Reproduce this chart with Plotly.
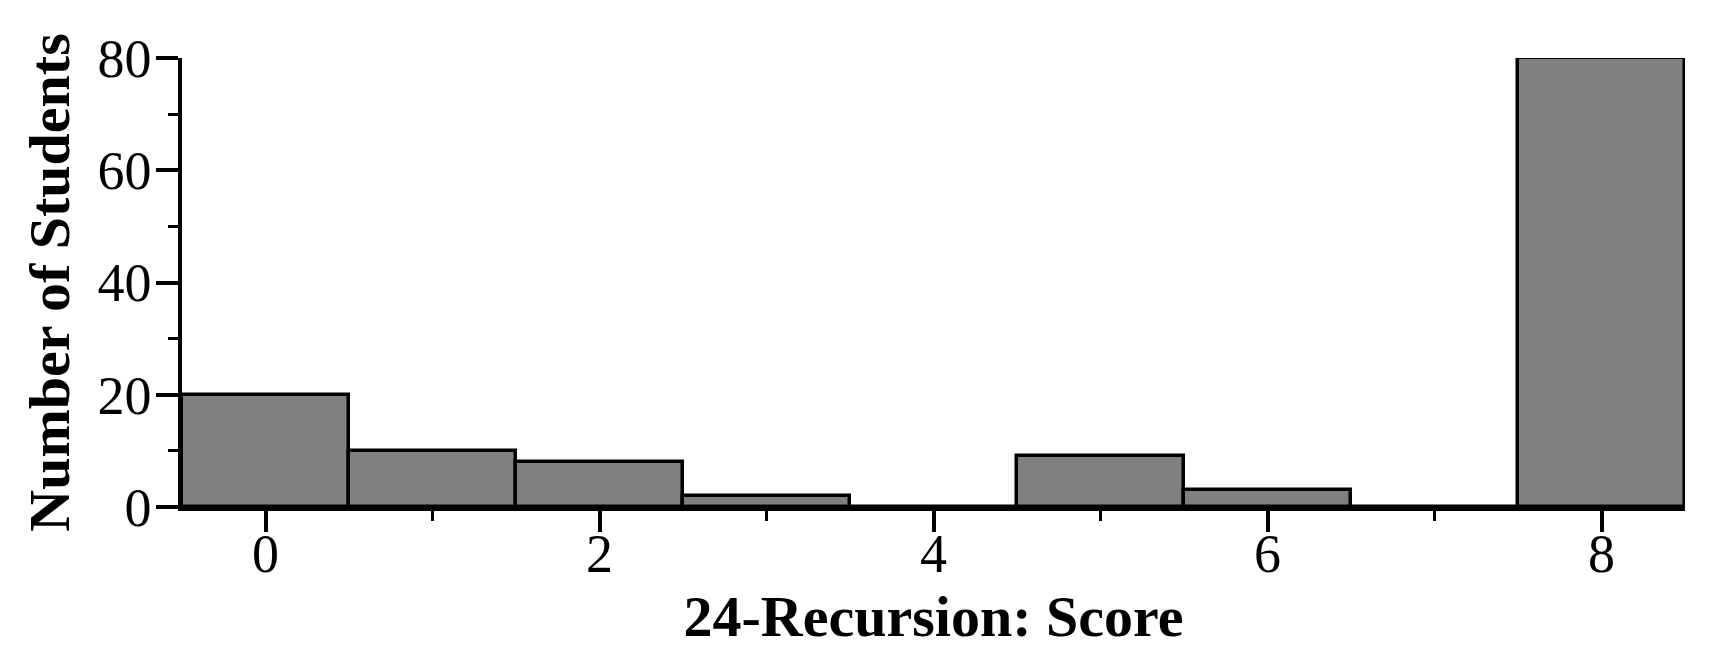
import plotly.graph_objects as go

scores = [0, 1, 2, 3, 4, 5, 6, 7, 8]
students = [20, 10, 8, 2, 0, 9, 3, 0, 80]
x_tick_vals = [0, 2, 4, 6, 8]
y_tick_vals = [0, 20, 40, 60, 80]

FONT = "Liberation Serif"

fig = go.Figure(
    go.Bar(
        x=scores,
        y=students,
        width=1,
        marker=dict(color="#808080", line=dict(color="black", width=3.5)),
    )
)

fig.update_layout(
    width=1712,
    height=662,
    margin=dict(l=174, r=35, t=50, b=163),
    paper_bgcolor="white",
    plot_bgcolor="white",
    showlegend=False,
    bargap=0,
    font=dict(family=FONT, color="black"),
)

fig.update_xaxes(
    range=[-0.5, 8.5],
    tickvals=x_tick_vals,
    ticks="outside",
    ticklen=21,
    tickwidth=3.5,
    tickcolor="black",
    ticklabelstandoff=-25,
    minor=dict(ticks="outside", ticklen=10, tickwidth=3, tickcolor="black", dtick=1, tick0=0),
    showline=True,
    linewidth=3.5,
    linecolor="black",
    showgrid=False,
    zeroline=False,
    tickfont=dict(family=FONT, size=54, color="black"),
    title=dict(text="<b>24-Recursion: Score</b>", font=dict(family=FONT, size=58, color="black"), standoff=10),
)

fig.update_yaxes(
    range=[0, 80],
    tickvals=y_tick_vals,
    ticks="outside",
    ticklen=22,
    tickwidth=3.5,
    tickcolor="black",
    ticklabelstandoff=-6,
    minor=dict(ticks="outside", ticklen=10, tickwidth=3, tickcolor="black", dtick=10, tick0=0),
    showline=True,
    linewidth=3.5,
    linecolor="black",
    showgrid=False,
    zeroline=False,
    tickfont=dict(family=FONT, size=54, color="black"),
    title=dict(text="<b>Number of Students</b>", font=dict(family=FONT, size=58, color="black"), standoff=10),
)

fig.write_html("out.html")
